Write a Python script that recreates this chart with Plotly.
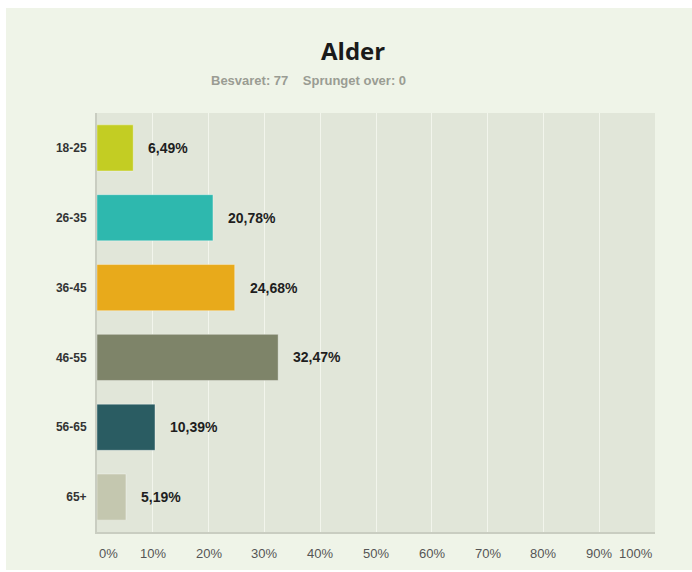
import plotly.graph_objects as go

categories = ["18-25", "26-35", "36-45", "46-55", "56-65", "65+"]
values = [6.49, 20.78, 24.68, 32.47, 10.39, 5.19]
value_labels = ["6,49%", "20,78%", "24,68%", "32,47%", "10,39%", "5,19%"]
colors = ["#c3cd23", "#2eb8ae", "#e8aa1b", "#7e8469", "#2a5c62", "#c4c7af"]
tick_vals = [0, 10, 20, 30, 40, 50, 60, 70, 80, 90, 100]
tick_text = ["0%", "10%", "20%", "30%", "40%", "50%", "60%", "70%", "80%", "90%", "100%"]
title_text = "Alder"
subtitle_text = "Besvaret: 77&nbsp;&nbsp;&nbsp;&nbsp;Sprunget over: 0"

PANEL = "#eff4e8"
W, H = 692, 572
L, R, T, B = 97, 37, 113, 40
pw, ph = W - L - R, H - T - B

def px_x(px):
    return (px - L) / pw

def px_y(py):
    return (H - B - py) / ph

fig = go.Figure()
fig.add_trace(go.Bar(
    y=categories, x=values, orientation="h",
    marker=dict(color=colors, line=dict(color="rgba(255,255,255,0.35)", width=1)),
    width=0.66, hoverinfo="skip",
))

annotations = []
for c, v, t in zip(categories, values, value_labels):
    annotations.append(dict(x=v, y=c, xref="x", yref="y", text=t, showarrow=False,
                            xanchor="left", xshift=13,
                            font=dict(family="Liberation Sans, Arial", size=14, color="#1e1e1e", weight="bold")))
for v, t in zip(tick_vals, tick_text):
    anchor = "left" if v == 0 else ("right" if v == 100 else "center")
    annotations.append(dict(x=v, y=px_y(553), xref="x", yref="paper", text=t, showarrow=False,
                            xanchor=anchor, yanchor="middle",
                            font=dict(family="Liberation Sans, Arial", size=13, color="#555555")))
annotations.append(dict(x=px_x(353), y=px_y(50), xref="paper", yref="paper", text=title_text,
                        showarrow=False, xanchor="center", yanchor="middle",
                        font=dict(family="Open Sans, Noto Sans", size=24, color="#1a1a1a", weight="bold")))
annotations.append(dict(x=px_x(308), y=px_y(80), xref="paper", yref="paper", text=subtitle_text,
                        showarrow=False, xanchor="center", yanchor="middle",
                        font=dict(family="Liberation Sans Narrow, Liberation Sans, Arial", size=13, color="#9a9c93", weight="bold")))

shapes = [
    dict(type="rect", xref="paper", yref="paper", x0=px_x(0), x1=px_x(W), y0=px_y(8), y1=px_y(0),
         fillcolor="white", line=dict(width=0), layer="below"),
    dict(type="rect", xref="paper", yref="paper", x0=px_x(0), x1=px_x(6), y0=px_y(H), y1=px_y(0),
         fillcolor="white", line=dict(width=0), layer="below"),
    dict(type="rect", xref="paper", yref="paper", x0=px_x(0), x1=px_x(W), y0=px_y(H), y1=px_y(570),
         fillcolor="white", line=dict(width=0), layer="below"),
]

fig.update_layout(
    width=W, height=H,
    margin=dict(l=L, r=R, t=T, b=B),
    paper_bgcolor=PANEL, plot_bgcolor="#e1e6d9",
    showlegend=False,
    annotations=annotations, shapes=shapes,
    xaxis=dict(range=[0, 100], tickvals=tick_vals[1:-1], showticklabels=False,
               showgrid=True, gridcolor="#f2f5ec", gridwidth=1, zeroline=False,
               showline=True, linecolor="#c9cdc1", linewidth=2, fixedrange=True),
    yaxis=dict(autorange="reversed", showgrid=False, zeroline=False,
               showline=True, linecolor="#c9cdc1", linewidth=2, ticks="", ticklabelstandoff=6,
               tickfont=dict(family="Liberation Sans, Arial", size=12, color="#333333", weight="bold"),
               fixedrange=True),
    bargap=0.34,
)

fig.write_html("out.html", config={"displayModeBar": False},
               post_script="document.body.style.margin='0';document.body.style.overflow='hidden';")
